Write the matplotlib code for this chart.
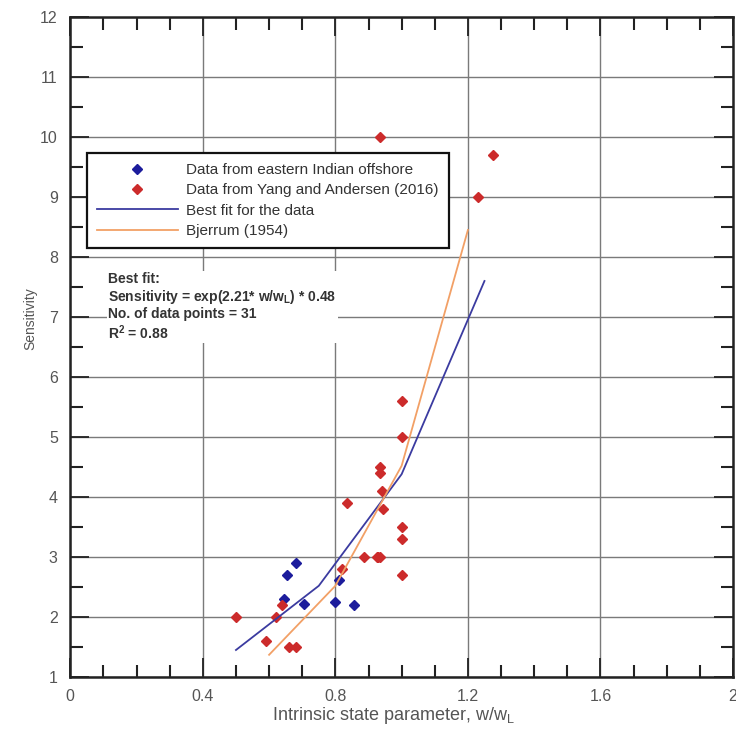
import matplotlib
matplotlib.use('Agg')
import matplotlib.pyplot as plt
from matplotlib.ticker import MultipleLocator, FixedLocator

plt.rcParams['font.family'] = ['Liberation Sans', 'DejaVu Sans']
plt.rcParams['mathtext.fontset'] = 'custom'
plt.rcParams['mathtext.rm'] = 'Liberation Sans'
plt.rcParams['mathtext.default'] = 'regular'

# Eastern Indian offshore samples
india_x = [0.645, 0.655, 0.68, 0.705, 0.80, 0.81, 0.855]
india_y = [2.3, 2.7, 2.9, 2.22, 2.25, 2.62, 2.2]

# Yang and Andersen (2016) samples
yang_x = [0.50, 0.59, 0.62, 0.64, 0.66, 0.68, 0.82, 0.835, 0.885, 0.925,
          0.93, 0.935, 0.935, 0.935, 0.94, 0.945, 0.935, 1.0, 1.0, 1.0,
          1.0, 1.0, 1.23, 1.275]
yang_y = [2.0, 1.6, 2.0, 2.2, 1.5, 1.5, 2.8, 3.9, 3.0, 3.0,
          3.0, 3.0, 4.5, 4.4, 4.1, 3.8, 10.0, 5.6, 5.0, 3.5,
          3.3, 2.7, 9.0, 9.7]

# Best fit curve, evaluated at a few points
fit_x = [0.50, 0.75, 1.00, 1.25]
fit_y = [1.45, 2.52, 4.38, 7.60]

# Bjerrum (1954) relation
bj_x = [0.60, 0.80, 1.00, 1.20]
bj_y = [1.37, 2.52, 4.52, 8.45]

x_ticks = [0, 0.4, 0.8, 1.2, 1.6, 2]
x_labels = ['0', '0.4', '0.8', '1.2', '1.6', '2']
y_ticks = list(range(1, 13))

fig = plt.figure(figsize=(7.36, 7.33), dpi=100)
ax = fig.add_axes([0.0955, 0.0764, 0.9004, 0.9004])

ax.plot(india_x, india_y, 'D', color='#1c1c9c', ms=5, ls='none',
        label='Data from eastern Indian offshore')
ax.plot(yang_x, yang_y, 'D', color='#cc2b2b', ms=5, ls='none',
        label='Data from Yang and Andersen (2016)')
ax.plot(fit_x, fit_y, color='#3b3ba0', lw=1.3, label='Best fit for the data')
ax.plot(bj_x, bj_y, color='#f2a066', lw=1.3, label='Bjerrum (1954)')

ax.set_xlim(0, 2)
ax.set_ylim(1, 12)
ax.set_xticks(x_ticks)
ax.set_xticklabels(x_labels)
ax.set_yticks(y_ticks)
ax.xaxis.set_minor_locator(FixedLocator([0.1, 0.2, 0.3, 0.5, 0.6, 0.7, 0.9, 1.0, 1.1,
                                         1.3, 1.4, 1.5, 1.7, 1.8, 1.9]))
ax.yaxis.set_minor_locator(MultipleLocator(0.5))

ax.grid(True, which='major', color='#7a7a7a', lw=1.0)
ax.set_axisbelow(True)
ax.tick_params(which='both', direction='in', top=True, right=True,
               color='#222222', width=1.5)
ax.tick_params(which='major', length=14, width=1.3, labelsize=11.5,
               labelcolor='#555555', pad=9)
ax.tick_params(which='minor', length=9)
for s in ax.spines.values():
    s.set_linewidth(1.8)
    s.set_color('#222222')

ax.set_xlabel('Intrinsic state parameter, w/w$_\\mathregular{L}$', fontsize=13,
              color='#555555')
ax.xaxis.set_label_coords(0.487, -0.042)
ax.set_ylabel('Sensitivity', fontsize=10, color='#555555')
ax.yaxis.set_label_coords(-0.05, 0.543)

leg = ax.legend(loc='upper left', bbox_to_anchor=(0.0252, 0.794), fontsize=11,
                frameon=True, fancybox=False, framealpha=1, edgecolor='#111111',
                handlelength=5.3, handletextpad=0.55, borderpad=0.65,
                labelspacing=0.42, borderaxespad=0, numpoints=1)
leg.get_frame().set_linewidth(1.6)
for t in leg.get_texts():
    t.set_color('#333333')

ax.text(0.0569, 0.613,
        'Best fit:\nSensitivity = exp(2.21* w/w$_\\mathregular{L}$) * 0.48\n'
        'No. of data points = 31\nR$^\\mathregular{2}$ = 0.88',
        transform=ax.transAxes, ha='left', va='top', fontsize=10,
        fontweight='bold', color='#333333', linespacing=1.12,
        bbox=dict(facecolor='white', edgecolor='none', pad=1))

fig.savefig('out.png', dpi=100)
plt.close(fig)
